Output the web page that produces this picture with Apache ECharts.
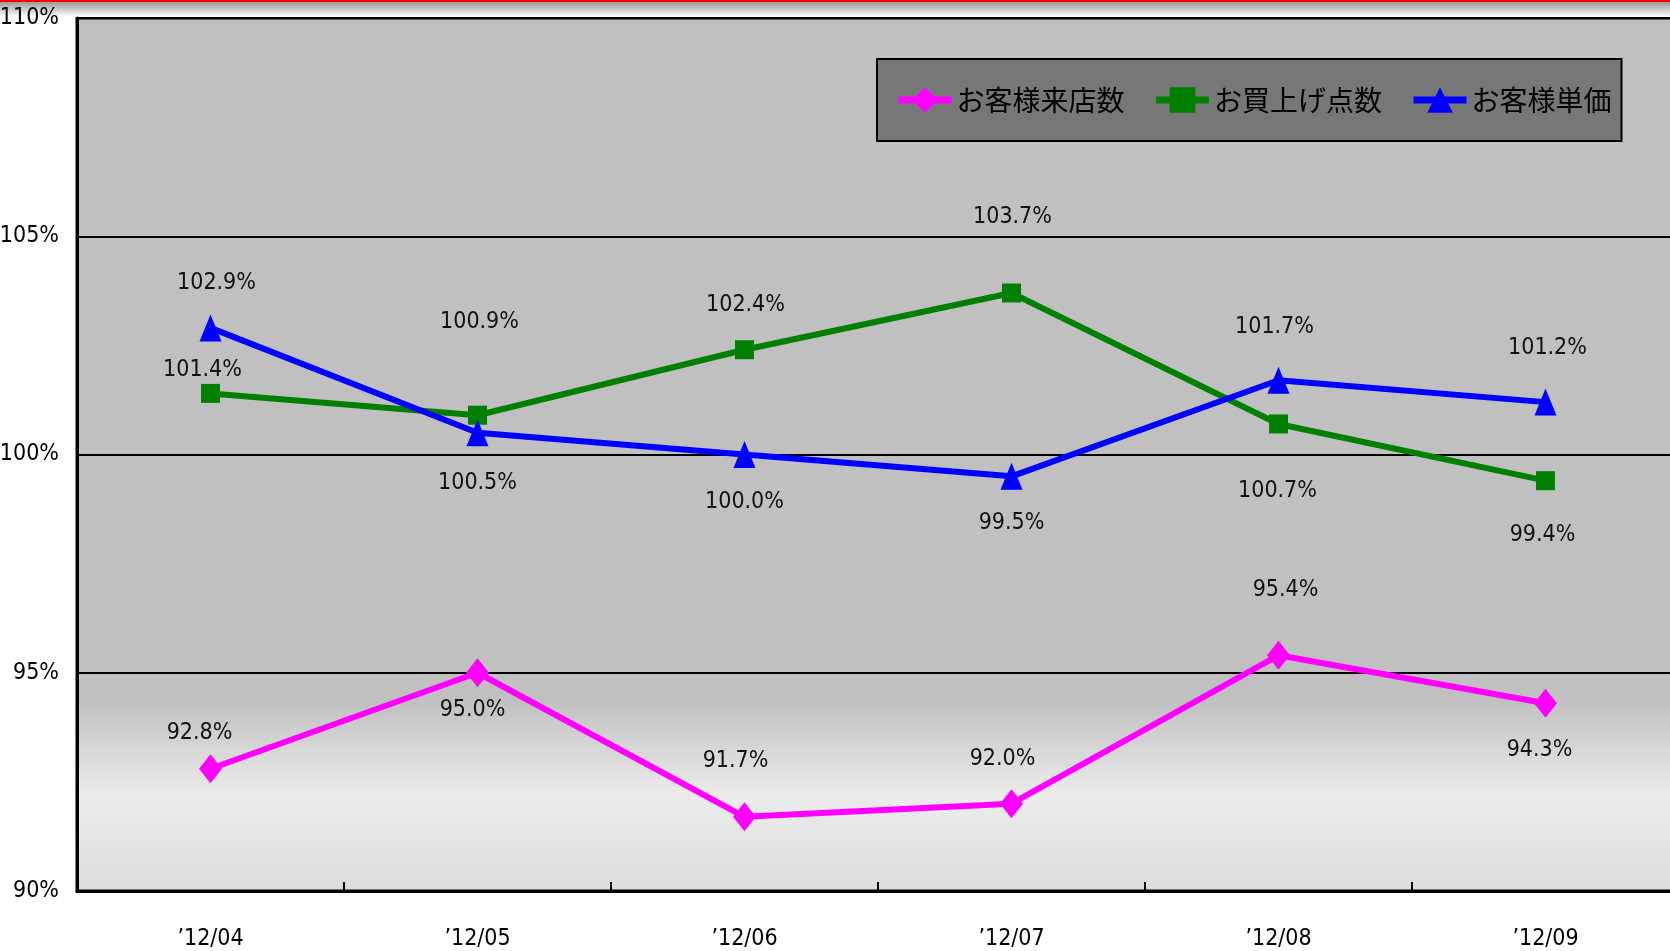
<!DOCTYPE html>
<html>
<head>
<meta charset="utf-8">
<script src="https://cdn.jsdelivr.net/npm/echarts@6/dist/echarts.min.js"></script>
<style>
html,body{margin:0;padding:0;background:#fff;}
#c{width:1670px;height:951px;}
</style>
</head>
<body>
<div id="c"></div>
<script>
// ---- data ----
const categories = ["’12/04", "’12/05", "’12/06", "’12/07", "’12/08", "’12/09"];
const seriesNames = ["お客様来店数", "お買上げ点数", "お客様単価"];
const visitors = [92.8, 95.0, 91.7, 92.0, 95.4, 94.3];
const itemsBought = [101.4, 100.9, 102.4, 103.7, 100.7, 99.4];
const unitPrice = [102.9, 100.5, 100.0, 99.5, 101.7, 101.2];
const yTicks = [90, 95, 100, 105, 110];

// ---- label placement (pixel offsets from each point) ----
const visitorsLabelOffsets = [[-11,-36],[-5,37],[-9,-56],[-9,-45],[7,-65],[-6,47]];
const itemsLabelOffsets = [[-8,-23],[2,-93],[1,-45],[1,-76],[-1,67],[-3,54]];
const priceLabelOffsets = [[6,-45],[0,50],[0,48],[0,47],[-4,-53],[2,-54]];

const narrow = "'Liberation Sans Narrow', 'DejaVu Sans Condensed', 'Liberation Sans', sans-serif";
const cjk = "'Noto Sans CJK JP', sans-serif";

function mkData(vals, offs) {
  return vals.map((v, i) => ({ value: v, label: { offset: offs[i] } }));
}
function mkSeries(name, vals, offs, color, symbol, symbolSize) {
  return {
    name: name,
    type: 'line',
    data: mkData(vals, offs),
    symbol: symbol,
    symbolSize: symbolSize,
    lineStyle: { color: color, width: 6 },
    itemStyle: { color: color },
    label: {
      show: true,
      position: 'inside',
      formatter: p => p.value.toFixed(1) + '%',
      color: '#111',
      fontFamily: narrow,
      fontSize: 23
    },
    emphasis: { disabled: true },
    animation: false
  };
}

const chart = echarts.init(document.getElementById('c'));
chart.setOption({
  backgroundColor: '#ffffff',
  animation: false,
  graphic: [
    { type: 'rect', left: 0, top: 2, shape: { width: 1670, height: 15 }, silent: true,
      style: { fill: new echarts.graphic.LinearGradient(0, 0, 0, 1, [
        { offset: 0, color: '#9a9a9a' }, { offset: 1, color: '#ffffff' }]) } },
    { type: 'rect', left: 0, top: 0, shape: { width: 1670, height: 2 }, silent: true,
      style: { fill: '#ff0000' } }
  ],
  grid: {
    left: 77, top: 18, width: 1602, height: 873,
    outerBoundsMode: 'none',
    containLabel: false,
    show: true,
    borderColor: '#000', borderWidth: 3,
    backgroundColor: new echarts.graphic.LinearGradient(0, 0, 0, 1, [
      { offset: 0, color: '#c0c0c0' },
      { offset: 0.78, color: '#c0c0c0' },
      { offset: 0.89, color: '#ececec' },
      { offset: 1, color: '#dcdcdc' }
    ])
  },
  legend: {
    data: seriesNames,
    left: 877, top: 59,
    backgroundColor: '#777777',
    borderColor: '#000', borderWidth: 2,
    padding: [27, 10, 27, 18],
    itemWidth: 53, itemHeight: 32, itemGap: 28,
    lineStyle: { width: 7 },
    textStyle: { fontFamily: cjk, fontSize: 28, color: '#000' }
  },
  xAxis: {
    type: 'category',
    data: categories,
    boundaryGap: true,
    axisLine: { lineStyle: { color: '#000', width: 3 } },
    axisTick: { show: true, inside: true, length: 9, lineStyle: { color: '#000', width: 2 } },
    axisLabel: { margin: 37, color: '#000', fontFamily: narrow, fontSize: 23 }
  },
  yAxis: {
    type: 'value',
    min: yTicks[0], max: yTicks[yTicks.length - 1], interval: 5,
    axisLine: { show: true, lineStyle: { color: '#000', width: 3 } },
    axisTick: { show: false },
    splitLine: { lineStyle: { color: '#000', width: 2 } },
    axisLabel: { margin: 18, color: '#000', fontFamily: narrow, fontSize: 23, formatter: '{value}%' }
  },
  series: [
    mkSeries(seriesNames[0], visitors, visitorsLabelOffsets, '#ff00ff', 'diamond', [23, 29]),
    mkSeries(seriesNames[1], itemsBought, itemsLabelOffsets, '#008000', 'rect', 19),
    mkSeries(seriesNames[2], unitPrice, priceLabelOffsets, '#0000ff', 'triangle', [22, 27])
  ]
});
</script>
</body>
</html>
